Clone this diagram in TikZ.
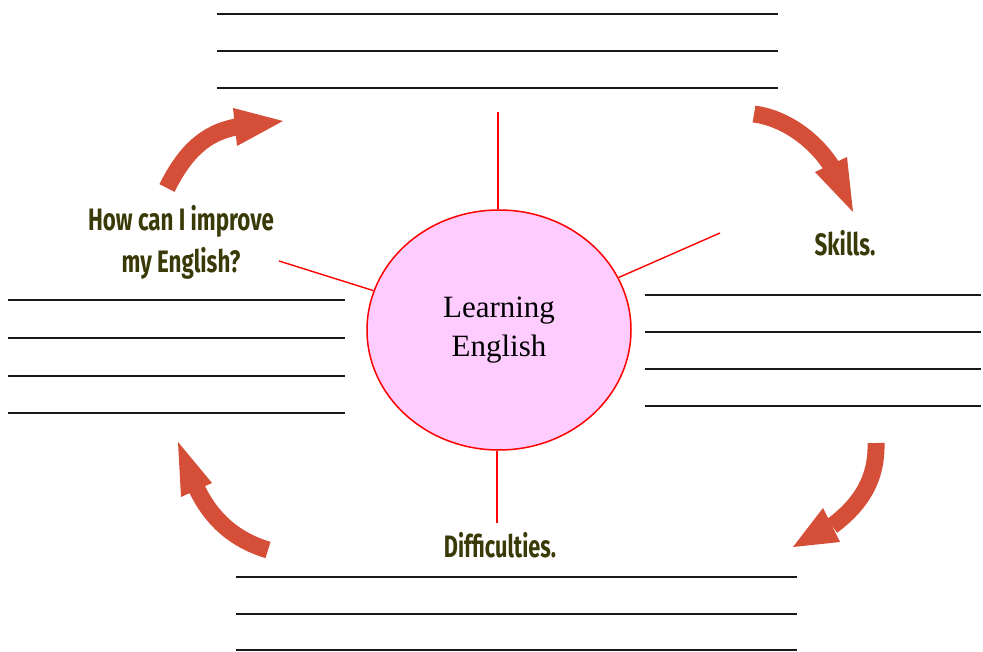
\documentclass[tikz,border=0pt]{standalone}
\usepackage{fontspec}
\setmainfont{Liberation Serif}
\newfontfamily\comicfont{Fira Sans}
\usetikzlibrary{shapes.geometric}
\definecolor{arrowred}{RGB}{212,78,56}
\definecolor{olive}{RGB}{58,58,8}
\definecolor{bubble}{RGB}{255,204,255}
\tikzset{
  rule/.style={draw=black!90, line width=1.6},
  spoke/.style={draw=red, line width=1.4},
  shaft/.style={draw=arrowred, line width=17, line cap=butt},
  head/.style={fill=arrowred, draw=none},
  label/.style={text=olive, font=\comicfont\fontsize{31}{42}\selectfont\bfseries, align=center, inner sep=0},
}
\begin{document}
\begin{tikzpicture}[x=1pt,y=-1pt]
\useasboundingbox (0,0) rectangle (983,652);
% centre
\node[ellipse, draw=red, line width=1.5, fill=bubble, minimum width=264, minimum height=240, inner sep=0,
      align=center, font=\fontsize{31}{39}\selectfont] (ctr) at (499,330) {Learning\\English};
% spokes
\coordinate (topend) at (498,112);
\coordinate (rightend) at (720,233);
\coordinate (leftend) at (279,261);
\coordinate (botend) at (497,523);
\draw[spoke] (topend) -- (ctr.north -| topend);
\draw[spoke] (rightend) -- (ctr);
\draw[spoke] (leftend) -- (ctr);
\draw[spoke] (botend) -- (ctr.south -| botend);
% labels
\node[label] (how) at (181,242) {\scalebox{0.72}[1]{How can I improve}\\\scalebox{0.72}[1]{my English?}};
\node[label] (skills) at (845,243) {\scalebox{0.72}[1]{Skills.}};
\node[label] (diff) at (500,545) {\scalebox{0.7}[1]{Difficulties.}};
% writing lines
\foreach \y in {14,51,88} \draw[rule] (217,\y) -- (778,\y);
\foreach \y in {300,338,376,413} \draw[rule] (8,\y) -- (345,\y);
\foreach \y in {295,332,369,406} \draw[rule] (645,\y) -- (981,\y);
\foreach \y in {577,614,650} \draw[rule] (236,\y) -- (797,\y);
% arrows
\draw[shaft] (167,188) .. controls (185,152) and (205,133) .. (236,127);
\fill[head] (233,108) -- (283,121) -- (237,146) -- cycle;
\draw[shaft] (754,114) .. controls (785,118) and (815,140) .. (832,167);
\fill[head] (815,172) -- (847,157) -- (853,212) -- cycle;
\draw[shaft] (876,443) .. controls (877,480) and (860,505) .. (832,526);
\fill[head] (823,508) -- (840,542) -- (793,547) -- cycle;
\draw[shaft] (268,550) .. controls (235,540) and (212,520) .. (197,489);
\fill[head] (181,497) -- (178,442) -- (212,483) -- cycle;
\end{tikzpicture}
\end{document}
